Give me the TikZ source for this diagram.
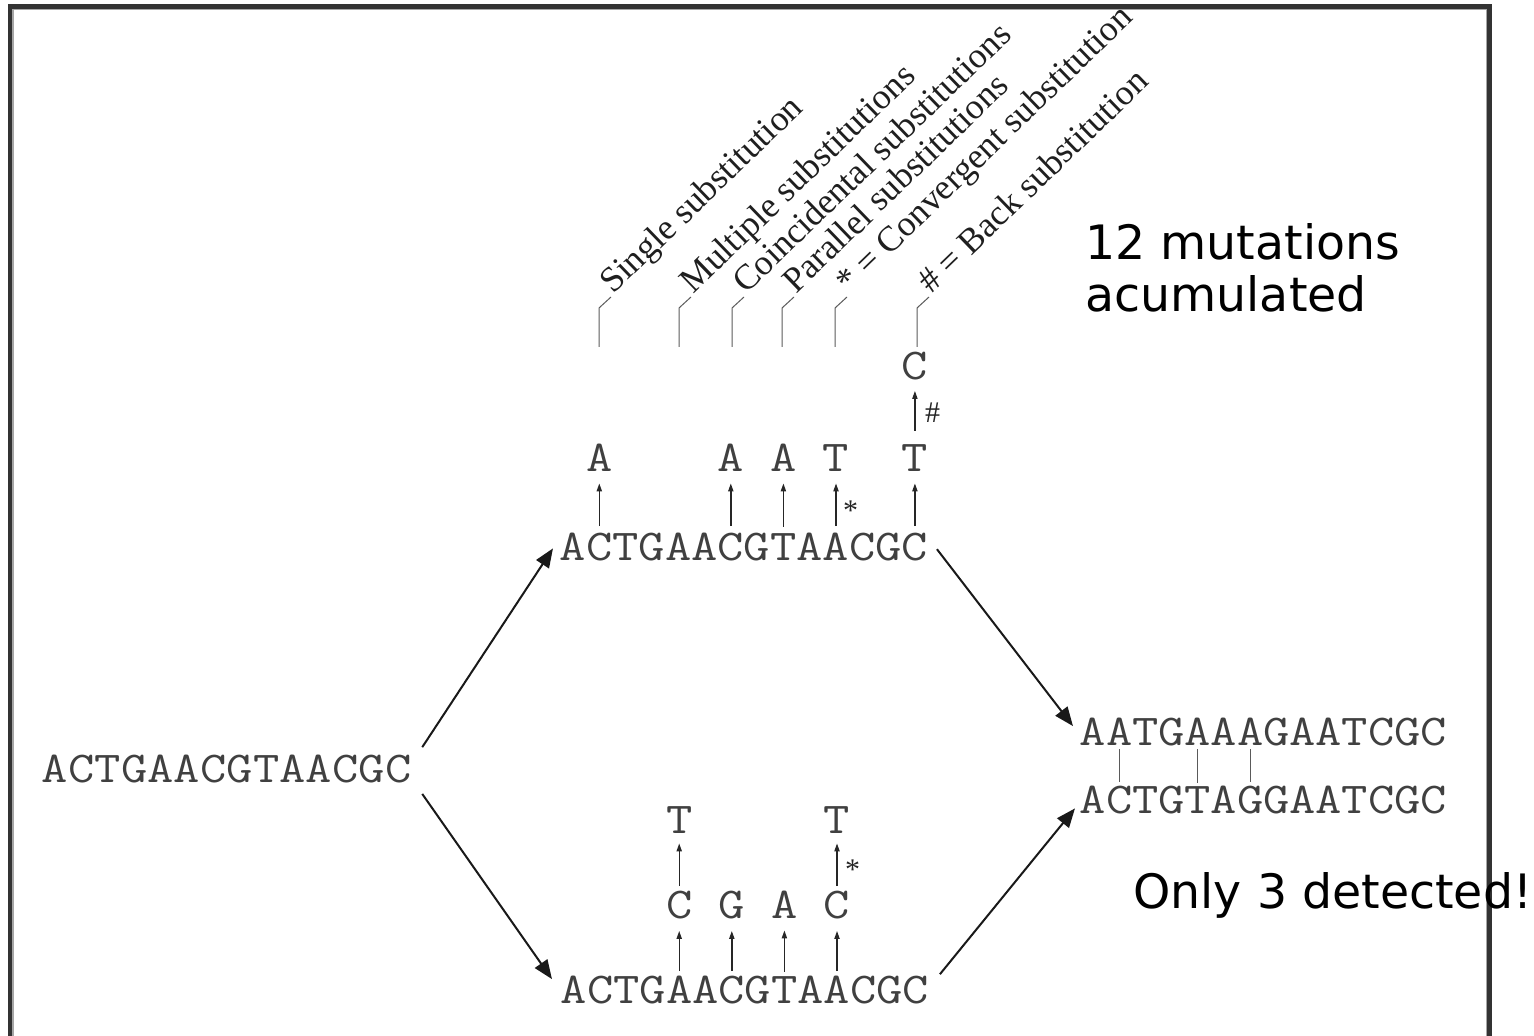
\documentclass[tikz,border=0pt]{standalone}
\usepackage{fontspec}
\newfontfamily\labfont{Liberation Serif}
\newfontfamily\notefont{DejaVu Sans}
\usetikzlibrary{arrows.meta,calc}
\definecolor{framegray}{HTML}{333333}
\definecolor{seqgray}{HTML}{404040}
\definecolor{leadgray}{HTML}{5A5A5A}
% widened typewriter base letter
\newcommand\nt[1]{\scalebox{1.16}[1]{#1}}
\begin{document}
\begin{tikzpicture}[x=0.5pt,y=-0.5pt,
  seq/.style={font=\ttfamily\fontsize{22pt}{22pt}\selectfont, text=seqgray, anchor=base, inner sep=0pt},
  lab/.style={font=\labfont\fontsize{17.8pt}{17.8pt}\selectfont, text=black!88, anchor=base west, rotate=44, inner sep=0pt},
  leader/.style={draw=leadgray, line width=0.5pt},
  mut/.style={draw=black!85, line width=0.7pt, -{Triangle[length=4pt,width=2.6pt]}},
  main/.style={draw=black!90, line width=1pt, -{Triangle[length=9.5pt,width=7.5pt]}},
  tick/.style={draw=leadgray, line width=0.55pt},
  sym/.style={font=\labfont\fontsize{15pt}{15pt}\selectfont, text=black!85, inner sep=0pt, anchor=west},
  note/.style={font=\notefont\fontsize{23.7pt}{26pt}\selectfont, anchor=base west, inner sep=0pt}
]
\useasboundingbox (0,0) rectangle (1534,1036);

% panel frame
\draw[line width=2.3pt, draw=framegray] (10,1036) -- (10,6.3) -- (1489.5,6.3) -- (1489.5,1036);
\draw[line width=0.6pt, draw=black!35] (12.9,1036) -- (12.9,9.3) -- (1486.1,9.3) -- (1486.1,1036);

% ancestral sequence
\foreach \ch [count=\i from 0] in {A,C,T,G,A,A,C,G,T,A,A,C,G,C}
  \node[seq] (l\i) at ({55+26.4*\i},782) {\nt{\ch}};
% upper lineage
\foreach \ch [count=\i from 0] in {A,C,T,G,A,A,C,G,T,A,A,C,G,C}
  \node[seq] (t\i) at ({573+26.3*\i},560) {\nt{\ch}};
% lower lineage
\foreach \ch [count=\i from 0] in {A,C,T,G,A,A,C,G,T,A,A,C,G,C}
  \node[seq] (b\i) at ({574+26.3*\i},1003) {\nt{\ch}};
% descendant sequences
\foreach \ch [count=\i from 0] in {A,A,T,G,A,A,A,G,A,A,T,C,G,C}
  \node[seq] (r\i) at ({1093+26.2*\i},745) {\nt{\ch}};
\foreach \ch [count=\i from 0] in {A,C,T,G,T,A,G,G,A,A,T,C,G,C}
  \node[seq] (s\i) at ({1093+26.2*\i},813) {\nt{\ch}};

% substitutions in the upper lineage
\node[seq] (ta1)  at (t1.base |- 0,472)  {\nt{A}};
\node[seq] (ta6)  at (t6.base |- 0,472)  {\nt{A}};
\node[seq] (ta8)  at (t8.base |- 0,472)  {\nt{A}};
\node[seq] (ta10) at (t10.base |- 0,472) {\nt{T}};
\node[seq] (ta13) at (t13.base |- 0,472) {\nt{T}};
\node[seq] (tc13) at (t13.base |- 0,380) {\nt{C}};
\foreach \k in {1,6,8,13}
  \draw[mut, shorten <=3pt, shorten >=5.5pt] (t\k.north) -- (ta\k.south);
\draw[mut, shorten <=3pt, shorten >=5.5pt] (t10.north) -- (ta10.south)
  node[sym, midway, xshift=3.25pt, yshift=-4pt] {*};
\draw[mut, shorten <=7pt, shorten >=5pt] (ta13.north) -- (tc13.south)
  node[sym, midway, xshift=4.75pt] {\#};

% substitutions in the lower lineage
\node[seq] (bm4)  at (b4.base |- 0,918)  {\nt{C}};
\node[seq] (bm6)  at (b6.base |- 0,918)  {\nt{G}};
\node[seq] (bm8)  at (b8.base |- 0,918)  {\nt{A}};
\node[seq] (bm10) at (b10.base |- 0,918) {\nt{C}};
\node[seq] (bu4)  at (b4.base |- 0,833)  {\nt{T}};
\node[seq] (bu10) at (b10.base |- 0,833) {\nt{T}};
\foreach \k in {4,6,8,10}
  \draw[mut, shorten <=2pt, shorten >=6pt] (b\k.north) -- (bm\k.south);
\draw[mut, shorten <=2pt, shorten >=5pt] (bm4.north) -- (bu4.south);
\draw[mut, shorten <=2pt, shorten >=5pt] (bm10.north) -- (bu10.south)
  node[sym, midway, xshift=3.75pt, yshift=-4pt] {*};

% lineage arrows
\draw[main] ($(l13.north east)+(10.5,-7)$) -- ($(t0.south west)+(-6.5,-12)$);
\draw[main] ($(l13.south east)+(10.5,11)$) -- ($(b0.north west)+(-8.5,4)$);
\draw[main] ($(t13.north east)+(8.5,17)$) -- ($(r0.north west)+(-6.5,9)$);
\draw[main] ($(b13.north east)+(10.5,-1)$) -- ($(s0.south west)+(-4.5,-5)$);

% detectable differences
\foreach \k in {1,4,6}
  \draw[tick, shorten <=2pt, shorten >=1.5pt] (r\k.south) -- (s\k.north);

% legend labels with leaders
\node[lab] (lab1) at (613,295) {Single substitution};
\node[lab] (lab2) at (693,295) {Multiple substitutions};
\node[lab] (lab3) at (746,295) {Coincidental substitutions};
\node[lab] (lab4) at (796,295) {Parallel substitutions};
\node[lab] (lab5) at (849,295) {* = Convergent substitution};
\node[lab] (lab6) at (931,295) {\# = Back substitution};
\foreach \k in {1,...,6}
  \draw[leader] ($(lab\k.base west)+(-2,2)$) -- ++(-12,11) -- ++(0,39);

% annotations
\node[note] (n1) at (1085,260) {12 mutations};
\node[note] (n2) at (1085,312) {acumulated};
\node[note] (n3) at (1133,908) {Only 3 detected!};
\end{tikzpicture}
\end{document}
